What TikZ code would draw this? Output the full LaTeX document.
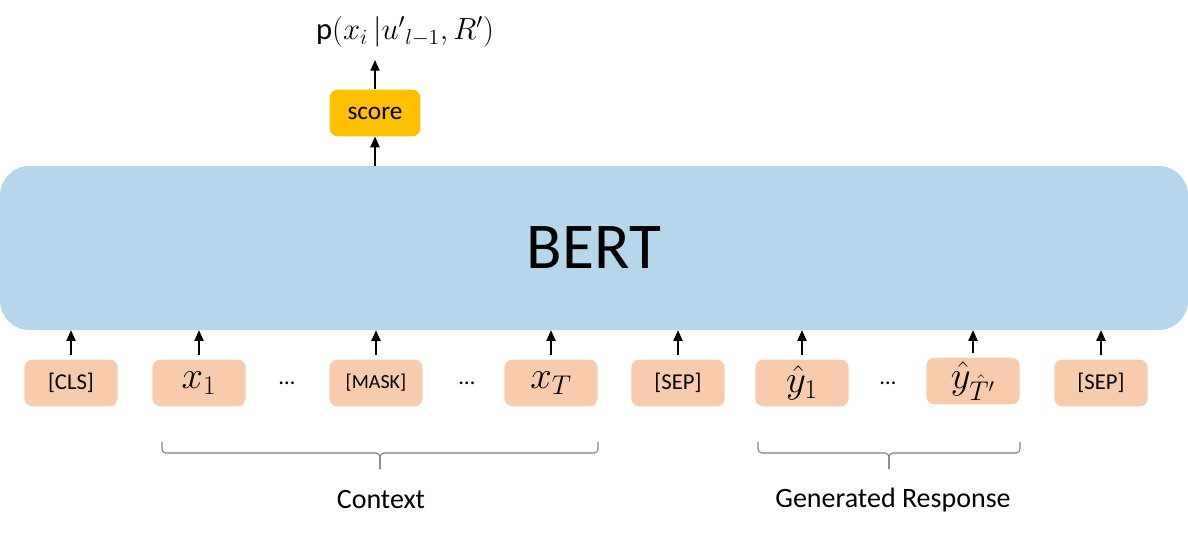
\documentclass[tikz,border=0pt]{standalone}
\usepackage{fix-cm}
\usepackage{fontspec}
\setmainfont{Carlito}
\usetikzlibrary{positioning,arrows.meta,calc}
\definecolor{bertblue}{HTML}{B6D6EC}
\definecolor{tokorange}{HTML}{F8CBAD}
\definecolor{scoregold}{HTML}{FFC000}
\definecolor{bracegray}{HTML}{7F7F7F}

\begin{document}
\begin{tikzpicture}[x=0.75pt, y=-0.75pt,
  tok/.style={fill=tokorange, rounded corners=6pt, minimum width=70pt,
              minimum height=35pt, inner sep=0pt, font=\fontsize{17}{20}\selectfont},
  mtok/.style={tok, font=\fontsize{29}{32}\selectfont},
  arr/.style={-{Triangle[width=7pt,length=8pt]}, line width=0.9pt},
  brc/.style={draw=bracegray, line width=0.8pt, rounded corners=3pt},
  lbl/.style={font=\fontsize{21}{24}\selectfont},
]
\useasboundingbox (0,0) rectangle (1188,536);

% ---- BERT ----
\node[fill=bertblue, rounded corners=22pt, minimum width=891pt, minimum height=123pt,
      inner sep=0pt, font=\fontsize{49}{56}\selectfont] (bert) at (594,248) {BERT};

% ---- Score and output ----
\node[fill=scoregold, rounded corners=6pt, minimum width=68pt, minimum height=35pt,
      inner sep=0pt, font=\fontsize{19}{22}\selectfont] (score) at (375,113) {score};
\node[font=\fontsize{23}{27}\selectfont] (prob) at (405,32)
  {p$(x_i\,|{u'}_{l-1},R')$};

\draw[arr] (bert.north -| score.south) -- (score.south);
\draw[arr, shorten >=6pt] (score.north) -- (score.north |- prob.south);

% ---- Input tokens ----
\node[tok] (cls) at (71,383) {[CLS]};
\node[mtok] (x1) at (199,383) {$x_1$};
\node[font=\fontsize{17}{20}\selectfont] (dotsA) at (287,383) {\dots};
\node[tok, font=\fontsize{15}{18}\selectfont] (mask) at (376,383) {[MASK]};
\node[font=\fontsize{17}{20}\selectfont] (dotsB) at (467,383) {\dots};
\node[mtok] (xT) at (551,383) {$x_T$};
\node[tok] (sepA) at (678,383) {[SEP]};
\node[mtok] (y1) at (802,383) {$\hat{y}_1$};
\node[font=\fontsize{17}{20}\selectfont] (dotsC) at (888,383) {\dots};
\node[mtok] (yT) at (973,381) {$\hat{y}_{\hat{T}'}$};
\node[tok] (sepB) at (1101,383) {[SEP]};

\draw[arr, shorten <=3pt] (cls.north) -- (bert.south -| cls.north);
\draw[arr, shorten <=3pt] (x1.north) -- (bert.south -| x1.north);
\draw[arr, shorten <=3pt] (mask.north) -- (bert.south -| mask.north);
\draw[arr, shorten <=3pt] (xT.north) -- (bert.south -| xT.north);
\draw[arr, shorten <=3pt] (sepA.north) -- (bert.south -| sepA.north);
\draw[arr, shorten <=3pt] (y1.north) -- (bert.south -| y1.north);
\draw[arr, shorten <=3pt] (yT.north) -- (bert.south -| yT.north);
\draw[arr, shorten <=3pt] (sepB.north) -- (bert.south -| sepB.north);

% ---- Braces ----
\coordinate (ctxL) at (162,442);
\coordinate (ctxR) at (598,442);
\coordinate (ctxM) at (380,453);
\coordinate (ctxT) at (380,469);
\coordinate (genL) at (758,442);
\coordinate (genR) at (1020,442);
\coordinate (genM) at (889,453);
\coordinate (genT) at (889,469);
\draw[brc] (ctxL) -- (ctxL |- ctxM) -- (ctxM) -- (ctxT);
\draw[brc] (ctxR) -- (ctxR |- ctxM) -- (ctxM) -- (ctxT);
\draw[brc] (genL) -- (genL |- genM) -- (genM) -- (genT);
\draw[brc] (genR) -- (genR |- genM) -- (genM) -- (genT);

\node[lbl] (ctx) at (381,500) {Context};
\node[lbl] (gen) at (893,500) {Generated Response};

\end{tikzpicture}
\end{document}
